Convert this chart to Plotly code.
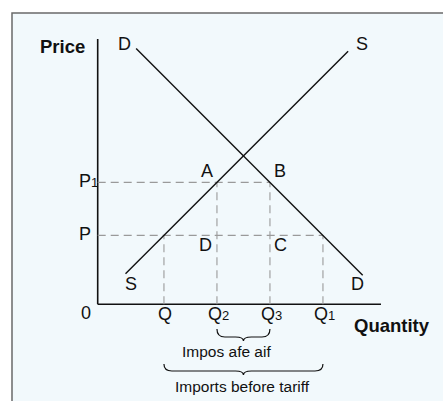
import plotly.graph_objects as go

# ---- data (economic diagram, arbitrary units) ----
q_names = ["Q", "Q<span style='font-size:13px'>2</span>", "Q<span style='font-size:13px'>3</span>",
           "Q<span style='font-size:13px'>1</span>"]
q_vals = [2.5, 4.5, 6.5, 8.5]          # Q, Q2, Q3, Q1
p_names = ["P", "P<span style='font-size:13px'>1</span>"]
p_vals = [2.6, 4.6]                    # P (world price), P1 (price with tariff)
supply_q = [1.05, 9.45]
supply_p = [1.15, 9.55]
demand_q = [1.45, 10.0]
demand_p = [9.65, 1.1]
x_max = 10.69
y_max = 10.01

# ---- layout helpers (pixel scale) ----
W, H = 443, 401
ox, oy, s = 97.7, 304.3, 26.5   # origin in pixels, pixels per unit
def dx(px): return (px - ox) / s
def dy(py): return (oy - py) / s

Q, Q2, Q3, Q1 = q_vals
P, P1 = p_vals

BLACK = "#111111"
DASH = "#9a9a9a"
FONT = "Liberation Sans, Arial, Helvetica, sans-serif"

fig = go.Figure()

# axes
fig.add_trace(go.Scatter(x=[0, x_max], y=[0, 0], mode="lines",
                         line=dict(color=BLACK, width=1.6), hoverinfo="skip"))
fig.add_trace(go.Scatter(x=[0, 0], y=[0, y_max], mode="lines",
                         line=dict(color=BLACK, width=1.6), hoverinfo="skip"))

# dashed guides
dash_style = dict(color=DASH, width=1.1, dash="8px,5px")
fig.add_trace(go.Scatter(x=[0, Q3], y=[P1, P1], mode="lines", line=dash_style, hoverinfo="skip"))
fig.add_trace(go.Scatter(x=[0, Q1], y=[P, P], mode="lines", line=dash_style, hoverinfo="skip"))
for qv, pv in [(Q, P), (Q2, P1), (Q3, P1), (Q1, P)]:
    fig.add_trace(go.Scatter(x=[qv, qv], y=[0, pv], mode="lines", line=dash_style, hoverinfo="skip"))

# supply & demand
fig.add_trace(go.Scatter(x=supply_q, y=supply_p, mode="lines",
                         line=dict(color=BLACK, width=1.4), hoverinfo="skip"))
fig.add_trace(go.Scatter(x=demand_q, y=demand_p, mode="lines",
                         line=dict(color=BLACK, width=1.4), hoverinfo="skip"))

shapes = []
# frame background
shapes.append(dict(type="rect", xref="x", yref="y", x0=dx(12), x1=dx(W + 20),
                   y0=dy(H + 20), y1=dy(13), fillcolor="#f2f9fc",
                   line=dict(color="#6a6a6a", width=1.5), layer="below"))

def brace(x0, x1, ytop, yflat, ytip, r=0.3):
    xm = (x0 + x1) / 2
    return (f"M {x0},{ytop} Q {x0},{yflat} {x0 + r},{yflat} "
            f"L {xm - r},{yflat} Q {xm},{yflat} {xm},{ytip} "
            f"Q {xm},{yflat} {xm + r},{yflat} "
            f"L {x1 - r},{yflat} Q {x1},{yflat} {x1},{ytop}")

shapes.append(dict(type="path", xref="x", yref="y",
                   path=brace(Q2, Q3, dy(329), dy(337), dy(341)),
                   line=dict(color=BLACK, width=1.2)))
shapes.append(dict(type="path", xref="x", yref="y",
                   path=brace(Q, Q1, dy(364), dy(371), dy(375)),
                   line=dict(color=BLACK, width=1.2)))

ann = []
def txt(x, y, t, size=18, bold=False, xanchor="center"):
    ann.append(dict(x=x, y=y, xref="x", yref="y", text=t, showarrow=False,
                    xanchor=xanchor, yanchor="middle",
                    font=dict(family=FONT, size=size, color=BLACK,
                              weight="bold" if bold else "normal")))

txt(dx(87), dy(46.5), "Price", size=18.5, bold=True, xanchor="right")
txt(dx(392), dy(325), "Quantity", size=18.5, bold=True)
txt(dx(124.5), dy(44), "D")
txt(dx(362), dy(44), "S")
txt(dx(131), dy(284), "S")
txt(dx(357.5), dy(284), "D")
txt(dx(206.5), dy(171), "A")
txt(dx(280), dy(171), "B")
txt(dx(205), dy(245), "D")
txt(dx(280), dy(245), "C")
txt(dx(86), dy(313), "0")
for name, qv in zip(q_names, q_vals):
    txt(qv + 0.05, dy(314), name)
for name, pv in zip(p_names, p_vals):
    txt(dx(76.5), pv + 0.07, name, xanchor="left")
txt(dx(226), dy(351.5), "Impos afe aif", size=15.5)
txt(dx(242.5), dy(386), "Imports before tariff", size=15.5)

fig.update_layout(
    width=W, height=H, autosize=False,
    margin=dict(l=0, r=0, t=0, b=0, pad=0),
    paper_bgcolor="white", plot_bgcolor="rgba(0,0,0,0)",
    showlegend=False, shapes=shapes, annotations=ann,
    xaxis=dict(range=[dx(0), dx(W)], visible=False, fixedrange=True),
    yaxis=dict(range=[dy(H), dy(0)], visible=False, fixedrange=True),
)

fig.write_html("out.html", config={"displayModeBar": False},
               post_script="document.body.style.margin='0';document.body.style.overflow='hidden';")
